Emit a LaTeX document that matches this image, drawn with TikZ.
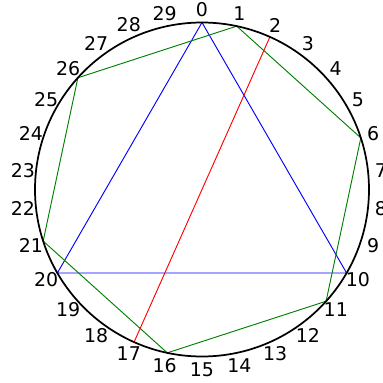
\documentclass[tikz,border=0pt]{standalone}
\usepackage{fontspec}
\setmainfont{DejaVu Sans}
\begin{document}
\begin{tikzpicture}[
  x=0.75pt, y=0.75pt,
  font=\fontsize{14.2}{16}\selectfont,
  num/.style={inner sep=0pt, anchor=center},
  ring/.style={draw=black, line width=1.3pt},
  tri/.style={blue, line width=0.7pt},
  hex/.style={green!50!black, line width=0.7pt},
  chord/.style={red, line width=0.7pt},
]
  % 1 unit = 1 px; radius of the circle and of the number ring
  \def\rr{167}
  \def\rl{180}
  \useasboundingbox (-202,-193.5) rectangle (181,189.5);

  % 30 points, 0 at the top, going clockwise
  \coordinate (c) at (0,0);
  \foreach \i in {0,...,29} {
    \coordinate (p\i) at (90-\i*12:\rr);
    \node[num] (l\i) at (90-\i*12:\rl) {\i};
  }

  % triangle, hexagon and one chord
  \draw[tri] (p0) -- (p10) -- (p20) -- cycle;
  \draw[hex] (p1) -- (p6) -- (p11) -- (p16) -- (p21) -- (p26) -- cycle;
  \draw[chord] (p2) -- (p17);

  % the circle itself
  \draw[ring] (c) circle[radius=\rr];
\end{tikzpicture}
\end{document}
